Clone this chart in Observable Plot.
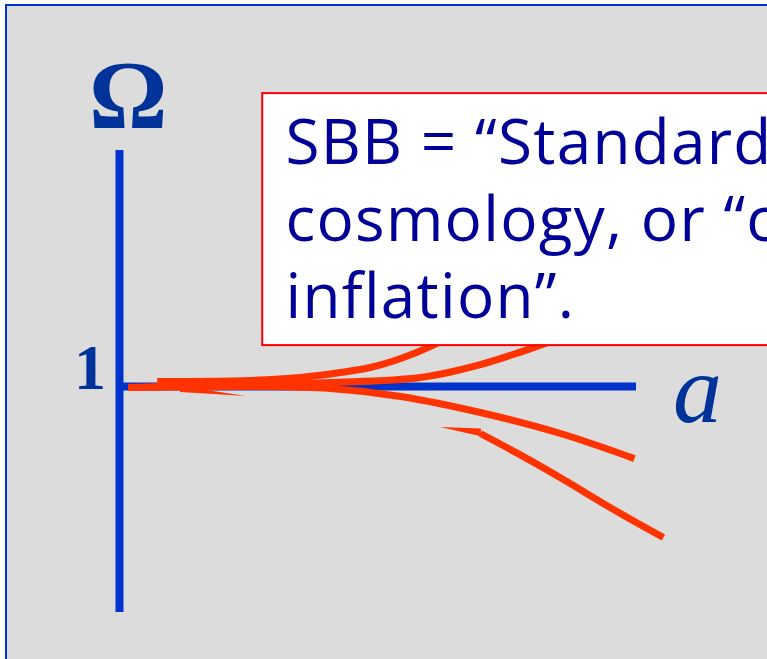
<!DOCTYPE html>
<html>
<head>
<meta charset="utf-8">
<script src="https://cdn.jsdelivr.net/npm/d3@7"></script>
<script src="https://cdn.jsdelivr.net/npm/@observablehq/plot@0.6"></script>
<style>
  html, body { margin: 0; padding: 0; background: #ffffff; overflow: hidden; width: 767px; height: 659px; }
  #slide { position: absolute; left: 5px; top: 4px; width: 800px; height: 700px;
           background: #dcdcdc; border-left: 2px solid #0033cc; border-top: 2px solid #0033cc; }
  #chart { position: absolute; left: 0; top: 0; width: 767px; height: 659px; overflow: hidden; }
  #chart svg { overflow: hidden; }
  #chart .boxtext text { letter-spacing: 1.3px; }
</style>
</head>
<body>
<div id="slide"></div>
<div id="chart"></div>
<script>
// Scale factor a (horizontal) and density parameter Omega (vertical)
const upperA      = [0.073, 0.253, 0.350, 0.427, 0.485, 0.544, 0.605, 0.631];
const upperOmega  = [1.022, 1.027, 1.040, 1.062, 1.084, 1.124, 1.181, 1.212];
const upper2A     = [0.017, 0.253, 0.408, 0.582, 0.698, 0.807, 0.834];
const upper2Omega = [0.996, 1.009, 1.018, 1.040, 1.097, 1.177, 1.199];
const lowerA      = [0.017, 0.253, 0.408, 0.544, 0.698, 0.853, 0.996];
const lowerOmega  = [0.996, 1.000, 0.991, 0.956, 0.885, 0.792, 0.681];
const lower2A     = [0.698, 0.770, 0.839, 0.969, 1.052];
const lower2Omega = [0.792, 0.704, 0.615, 0.438, 0.332];
// tapered fragments (wedges): a, upper Omega edge, lower Omega edge
const sliverA      = [0.118, 0.246];
const sliverOmega1 = [1.000, 0.956];
const sliverOmega2 = [0.973, 0.956];
const taperA       = [0.621, 0.700];
const taperOmega1  = [0.819, 0.812];
const taperOmega2  = [0.819, 0.778];

// Axes extents
const axisA     = [0, 1];
const axisOmega = [0, 2.044];
const flatOmega = 1;

// Text box
const boxA     = [0.277, 1.45];
const boxOmega = [1.181, 2.296];
const boxLines = ["SBB = \u201cStandard Big Bang\u201d", "cosmology, or \u201ccosmology without", "inflation\u201d."];

const labelOmega = "\u03a9";
const labelOne = "1";
const labelA = "a";

const toRows = (A, O, s) => A.map((a, i) => ({a, omega: O[i], s}));
const curves = [
  ...toRows(upperA, upperOmega, "up1"),
  ...toRows(upper2A, upper2Omega, "up2"),
  ...toRows(lowerA, lowerOmega, "down1"),
  ...toRows(lower2A, lower2Omega, "down2")
];
const wedges = [
  ...sliverA.map((a, i) => ({a, o1: sliverOmega1[i], o2: sliverOmega2[i], s: "sliver"})),
  ...taperA.map((a, i) => ({a, o1: taperOmega1[i], o2: taperOmega2[i], s: "taper"}))
];

const blue = "#0033cc";
const red = "#ff3300";
const navy = "#003399";

const chart = Plot.plot({
  width: 767,
  height: 659,
  marginLeft: 119,
  marginRight: 131,
  marginTop: 160,
  marginBottom: 47,
  x: {domain: [0, 1], axis: null},
  y: {domain: [0, 2], axis: null},
  style: {background: "transparent", overflow: "hidden"},
  marks: [
    Plot.ruleX([axisA[0]], {y1: axisOmega[0], y2: axisOmega[1], stroke: blue, strokeWidth: 8}),
    Plot.ruleY([flatOmega], {x1: axisA[0], x2: axisA[1], stroke: blue, strokeWidth: 8}),
    Plot.line(curves, {x: "a", y: "omega", z: "s", stroke: red, strokeWidth: 7, curve: "catmull-rom", strokeLinecap: "butt"}),
    Plot.areaY(wedges, {x: "a", y1: "o1", y2: "o2", z: "s", fill: red}),
    Plot.rect([{x1: boxA[0], x2: boxA[1], y1: boxOmega[0], y2: boxOmega[1]}],
      {x1: "x1", x2: "x2", y1: "y1", y2: "y2", fill: "white", stroke: "#ff0000", strokeWidth: 2}),
    Plot.text([boxLines.join("\n")], {x: 0.321, y: 1.301, text: d => d, textAnchor: "start", lineAnchor: "bottom",
      lineHeight: 1.242, fontSize: 62, fill: "#000099", className: "boxtext",
      fontFamily: "'Comic Sans MS', 'Open Sans', sans-serif"}),
    Plot.text([labelOmega], {x: 0.017, y: 2.142, text: d => d, textAnchor: "middle", lineAnchor: "bottom",
      fontSize: 98, fontWeight: "bold", fill: navy, fontFamily: "'Liberation Serif', 'Times New Roman', serif"}),
    Plot.text([labelOne], {x: -0.057, y: 0.987, text: d => d, textAnchor: "middle", lineAnchor: "bottom",
      fontSize: 64, fontWeight: "bold", fill: navy, fontFamily: "'Liberation Serif', 'Times New Roman', serif"}),
    Plot.text([labelA], {x: 1.118, y: 0.845, text: d => d, textAnchor: "middle", lineAnchor: "bottom",
      fontSize: 98, fontStyle: "italic", fill: navy, fontFamily: "'Liberation Serif', 'Times New Roman', serif"})
  ]
});
document.getElementById("chart").appendChild(chart);
</script>
</body>
</html>
